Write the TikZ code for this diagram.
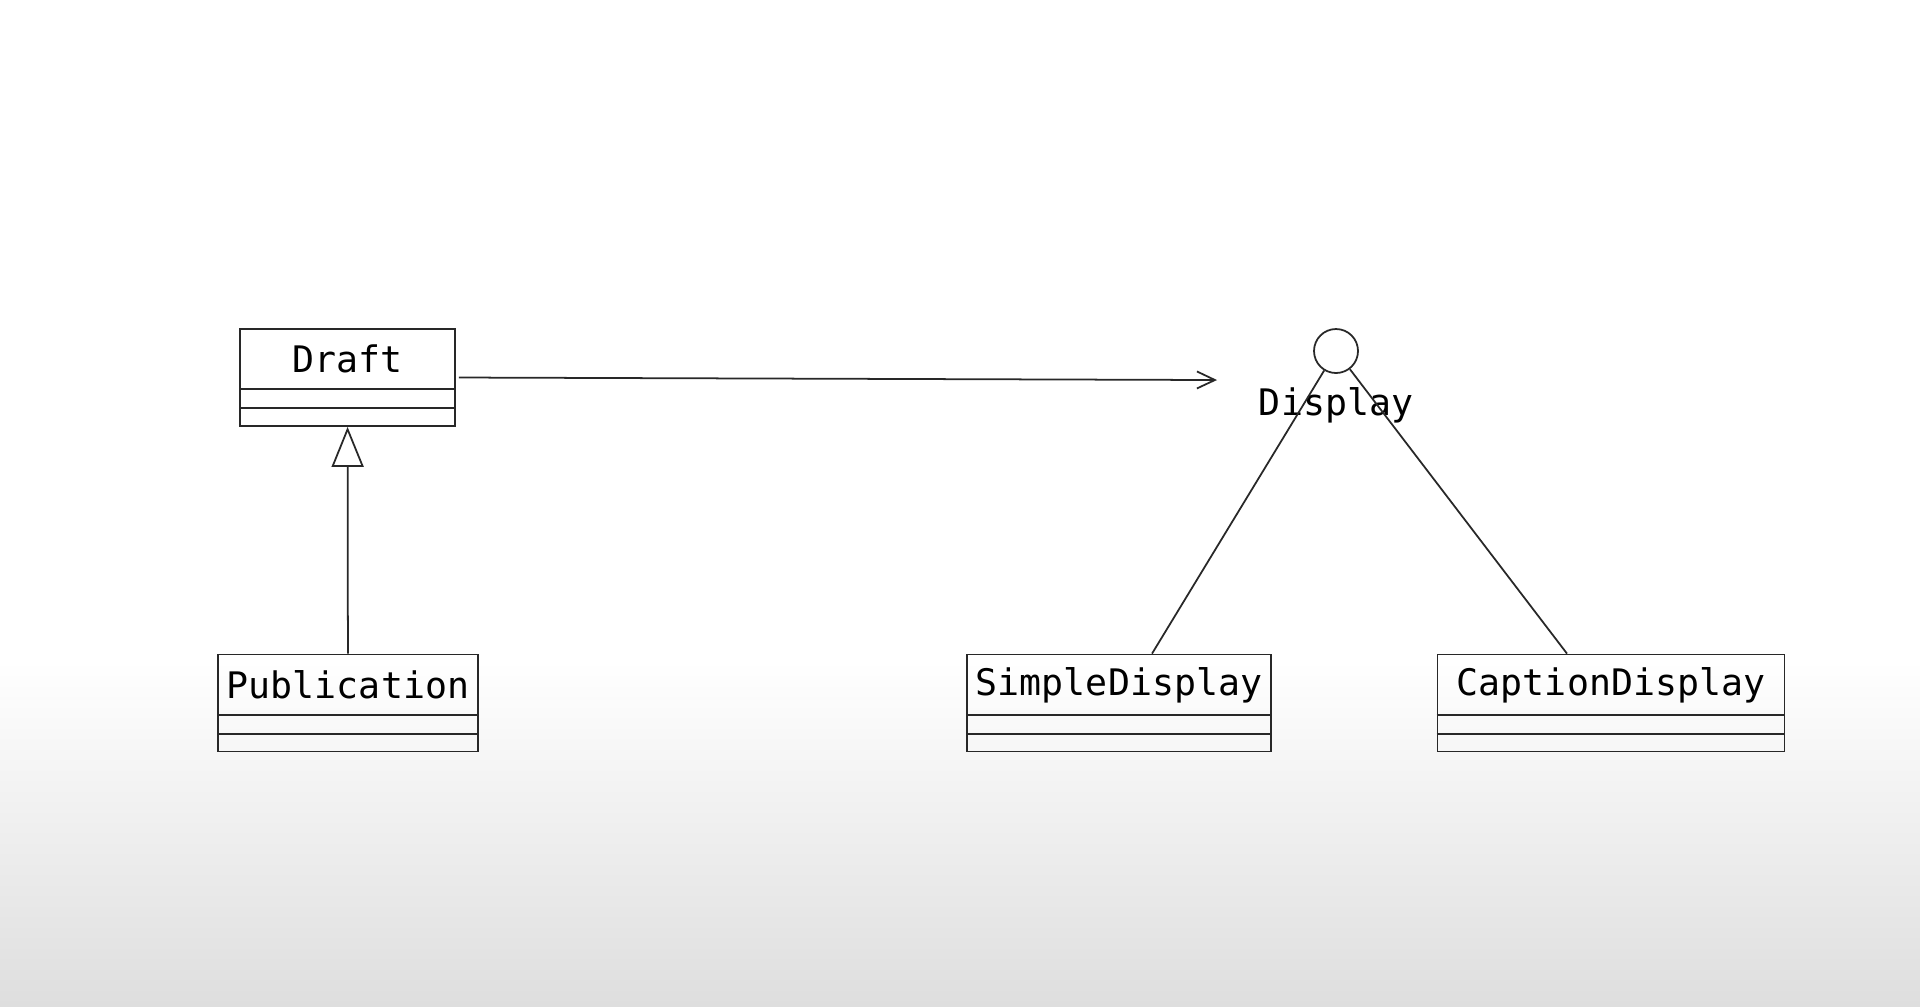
\documentclass[tikz,border=0pt]{standalone}
\usepackage{fontspec}
\setmonofont{DejaVu Sans Mono}
\usetikzlibrary{positioning,arrows.meta}
\definecolor{ln}{RGB}{40, 40, 40}
\definecolor{bg}{RGB}{222, 222, 222}
\def\boxheight{0.97cm}
\def\nameheight{0.61cm}
\def\attrheight{0.19cm}
% class box with three compartments: x, y, name, width, text
\newcommand{\classbox}[5]{\node[draw,rectangle,minimum height=\boxheight,minimum width=#4,color=ln,line width=0.5pt,inner sep=0pt] (#3) at (#1,#2) {};
	\node[rectangle,minimum height=\nameheight,minimum width=#4,below,inner sep=0pt] at (#3.north) {\ttfamily\fontsize{10.4pt}{12pt}\selectfont#5};
	\draw[color=ln,line width=0.5pt] ([yshift=-\nameheight]#3.north west) -- ([yshift=-\nameheight]#3.north east);
	\draw[color=ln,line width=0.5pt] ([yshift=-\nameheight-\attrheight]#3.north west) -- ([yshift=-\nameheight-\attrheight]#3.north east); }

\begin{document}
\begin{tikzpicture}
% background
\useasboundingbox (0,0) rectangle (19.2,-10.06);
\fill[white] (0,0) rectangle (19.2,-6.6);
\fill[top color=white,bottom color=bg] (0,-6.6) rectangle (19.2,-10.06);

\classbox{3.475}{-3.775}{Draft}{2.15cm}{Draft}
\classbox{3.48}{-7.03}{Publication}{2.60cm}{Publication}
\classbox{11.19}{-7.03}{SimpleDisplay}{3.04cm}{SimpleDisplay}
\classbox{16.11}{-7.03}{CaptionDisplay}{3.47cm}{CaptionDisplay}

% interface
\node[draw,circle,minimum size=0.44cm,inner sep=0pt,color=ln,line width=0.5pt] (Display) at (13.36,-3.51) {};
\node[inner sep=0pt] (DisplayLabel) at (13.36,-4.05) {\ttfamily\fontsize{10.4pt}{12pt}\selectfont Display};
\coordinate (uses) at (12.17,-3.80);

\draw[-{Straight Barb[length=0.18cm,width=0.17cm]},color=ln,line width=0.5pt] ([xshift=0.03cm]Draft.east) -- (uses);
\draw[-{Triangle[open,length=0.4cm,width=0.32cm]},color=ln,line width=0.5pt] (Publication) -- (Draft);
\draw[color=ln,line width=0.5pt] (Display) -- ([xshift=0.33cm]SimpleDisplay.north);
\draw[color=ln,line width=0.5pt] (Display) -- ([xshift=-0.44cm]CaptionDisplay.north);
\end{tikzpicture}
\end{document}
